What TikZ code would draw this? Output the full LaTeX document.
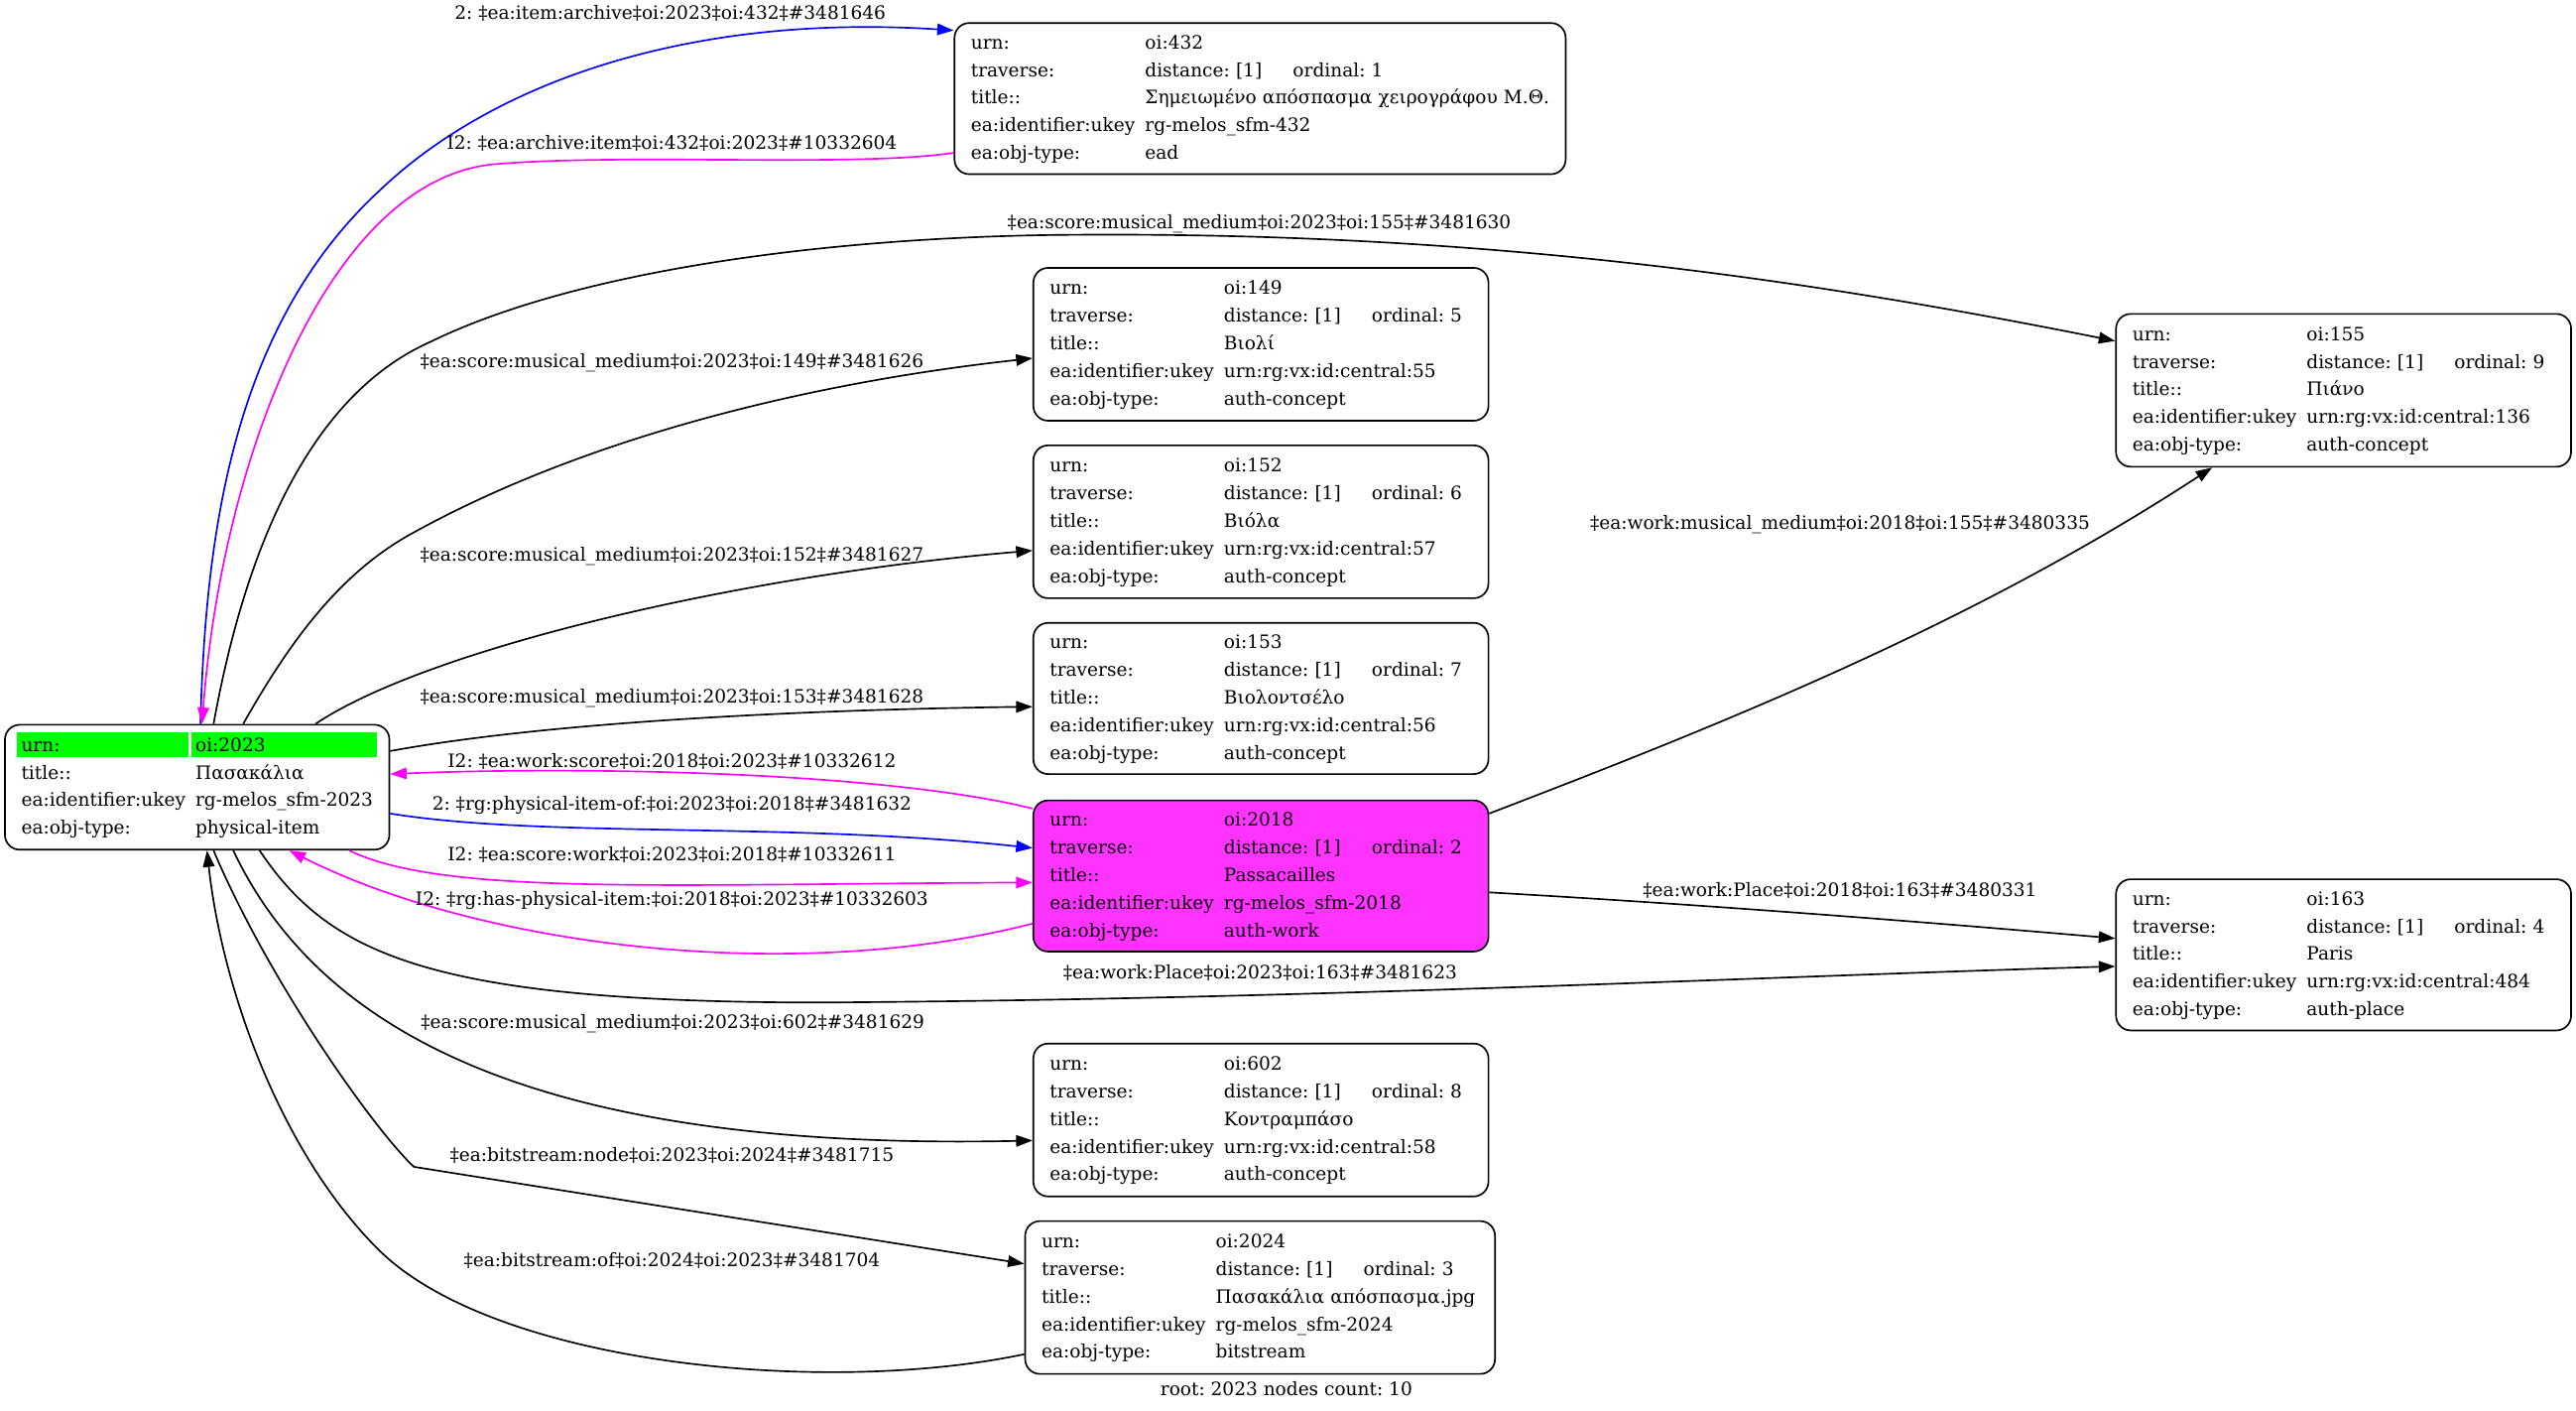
\documentclass[tikz,border=0pt]{standalone}
\usepackage{fontspec}
\setmainfont{DejaVu Serif}
\usetikzlibrary{arrows.meta}
\usetikzlibrary{backgrounds}

\definecolor{urngreen}{RGB}{0,255,0}
\definecolor{workpink}{RGB}{255,51,255}
\definecolor{linkmagenta}{RGB}{255,0,255}
\definecolor{linkblue}{RGB}{0,0,255}
\frenchspacing

\newcommand{\recrows}[5]{%
  \begin{tabular}{@{}p{106pt}@{}l@{}}
  urn: & #1\\
  traverse: & \makebox[90pt][l]{distance: [1]}ordinal: #2\\
  title:: & #3\\
  ea:identifier:ukey & #4\\
  ea:obj-type: & #5
  \end{tabular}}

\begin{document}
\begin{tikzpicture}[x=1pt,y=-1pt,
    rec/.style={draw, rounded corners=9pt, line width=1pt, inner xsep=10pt, inner ysep=0pt,
        align=left, font=\fontsize{11.2}{16.8}\selectfont},
    lbl/.style={inner sep=0pt, font=\fontsize{11.2}{16.8}\selectfont},
    link/.style={line width=1pt, -{Triangle[length=10pt,width=7pt]}}]%
    \useasboundingbox (0,0) rectangle (1568,858);
    % records
    \node[rec, minimum width=234pt, minimum height=76pt, text width=214pt] (n2023) at (120,479)
        {\begin{tabular}{@{}p{106pt}@{}l@{}}
         urn: & oi:2023\\
         title:: & Πασακάλια\\
         ea:identifier:ukey & rg-melos\_sfm-2023\\
         ea:obj-type: & physical-item
         \end{tabular}};
    \node[rec, minimum width=372pt, minimum height=92pt, text width=352pt] (n432) at (767,60)
        {\recrows{oi:432}{1}{Σημειωμένο απόσπασμα χειρογράφου Μ.Θ.}{rg-melos\_sfm-432}{ead}};
    \node[rec, minimum width=277pt, minimum height=93pt, text width=257pt] (n149) at (767.5,209.5)
        {\recrows{oi:149}{5}{Βιολί}{urn:rg:vx:id:central:55}{auth-concept}};
    \node[rec, minimum width=277pt, minimum height=93pt, text width=257pt] (n152) at (767.5,317.5)
        {\recrows{oi:152}{6}{Βιόλα}{urn:rg:vx:id:central:57}{auth-concept}};
    \node[rec, minimum width=277pt, minimum height=92pt, text width=257pt] (n153) at (767.5,425)
        {\recrows{oi:153}{7}{Βιολοντσέλο}{urn:rg:vx:id:central:56}{auth-concept}};
    \node[rec, fill=workpink, minimum width=277pt, minimum height=92pt, text width=257pt] (n2018) at (767.5,533)
        {\recrows{oi:2018}{2}{Passacailles}{rg-melos\_sfm-2018}{auth-work}};
    \node[rec, minimum width=277pt, minimum height=93pt, text width=257pt] (n602) at (767.5,681.5)
        {\recrows{oi:602}{8}{Κοντραμπάσο}{urn:rg:vx:id:central:58}{auth-concept}};
    \node[rec, minimum width=286pt, minimum height=93pt, text width=266pt] (n2024) at (767,789.5)
        {\recrows{oi:2024}{3}{Πασακάλια απόσπασμα.jpg}{rg-melos\_sfm-2024}{bitstream}};
    \node[rec, minimum width=277pt, minimum height=93pt, text width=257pt] (n155) at (1426.5,237.5)
        {\recrows{oi:155}{9}{Πιάνο}{urn:rg:vx:id:central:136}{auth-concept}};
    \node[rec, minimum width=277pt, minimum height=92pt, text width=257pt] (n163) at (1426.5,581)
        {\recrows{oi:163}{4}{Paris}{urn:rg:vx:id:central:484}{auth-place}};
    \begin{scope}[on background layer]
        \fill[urngreen] ([xshift=8pt,yshift=-5pt]n2023.north west) rectangle ([xshift=112pt,yshift=-20pt]n2023.north west);
        \fill[urngreen] ([xshift=114pt,yshift=-5pt]n2023.north west) rectangle ([xshift=227pt,yshift=-20pt]n2023.north west);
    \end{scope}
    % links
    \begin{scope}[link]
        \draw[linkblue] ([xshift=2pt]n2023.north) .. controls (125,330) and (140,200) .. (231,116)
            .. controls (300,50) and (420,8) .. ([yshift=-5pt]n432.north west);
        \draw[linkmagenta] ([yshift=-33pt]n432.west) .. controls (520,102) and (380,93) .. (300,100)
            .. controls (200,110) and (135,280) .. ([xshift=3pt]n2023.north);
        \draw ([xshift=10pt]n2023.north) .. controls (150,330) and (190,240) .. (262,208)
            .. controls (350,165) and (500,145) .. (640,143)
            .. controls (900,140) and (1100,170) .. ([yshift=30pt]n155.west);
        \draw ([xshift=28pt]n2023.north) .. controls (175,393) and (205,350) .. (250,325)
            .. controls (360,264) and (500,232) .. ([yshift=-8.5pt]n149.west);
        \draw ([xshift=72pt]n2023.north) .. controls (260,395) and (450,350) .. ([yshift=-17.5pt]n152.west);
        \draw ([yshift=22pt]n2023.east) .. controls (330,440) and (480,432) .. ([yshift=-5pt]n153.west);
        \draw[linkmagenta] ([yshift=41pt]n2018.west) .. controls (540,470) and (360,466) .. ([yshift=8pt]n2023.east);
        \draw[linkblue] ([yshift=-16pt]n2023.east) .. controls (330,510) and (480,500) .. ([yshift=17pt]n2018.west);
        \draw[linkmagenta] ([xshift=-25pt]n2023.south east) .. controls (270,545) and (400,538) .. ([yshift=-4pt]n2018.west);
        \draw[linkmagenta] ([yshift=-29pt]n2018.west) .. controls (480,600) and (290,575) .. ([xshift=56pt]n2023.south);
        \draw ([yshift=38pt]n2018.east) .. controls (1050,440) and (1200,380) .. ([xshift=-80pt]n155.south);
        \draw ([yshift=-10pt]n2018.east) .. controls (1030,550) and (1160,560) .. ([yshift=10pt]n163.west);
        \draw ([xshift=38pt]n2023.south) .. controls (200,580) and (260,610) .. (500,610)
            .. controls (800,608) and (1050,595) .. ([yshift=-7pt]n163.west);
        \draw ([xshift=22pt]n2023.south) .. controls (200,640) and (350,700) .. ([yshift=-12.5pt]n602.west);
        \draw ([xshift=10pt]n2023.south) .. controls (165,600) and (230,690) .. (252,710)
            -- ([yshift=20.5pt]n2024.west);
        \draw ([yshift=-34.5pt]n2024.west) .. controls (500,850) and (300,830) .. (230,760)
            .. controls (170,700) and (135,600) .. ([xshift=6pt]n2023.south);
    \end{scope}
    % link labels
    \node[lbl] (lItemArchive) at (408,8) {2: ‡ea:item:archive‡oi:2023‡oi:432‡\#3481646};
    \node[lbl] (lArchiveItem) at (409,87) {I2: ‡ea:archive:item‡oi:432‡oi:2023‡\#10332604};
    \node[lbl] (lMedium155) at (766.5,136) {‡ea:score:musical\_medium‡oi:2023‡oi:155‡\#3481630};
    \node[lbl] (lMedium149) at (409,221) {‡ea:score:musical\_medium‡oi:2023‡oi:149‡\#3481626};
    \node[lbl] (lMedium152) at (409,338.5) {‡ea:score:musical\_medium‡oi:2023‡oi:152‡\#3481627};
    \node[lbl] (lMedium153) at (409,425) {‡ea:score:musical\_medium‡oi:2023‡oi:153‡\#3481628};
    \node[lbl] (lWorkScore) at (409,463) {I2: ‡ea:work:score‡oi:2018‡oi:2023‡\#10332612};
    \node[lbl] (lItemOf) at (409,490) {2: ‡rg:physical-item-of:‡oi:2023‡oi:2018‡\#3481632};
    \node[lbl] (lScoreWork) at (409,520) {I2: ‡ea:score:work‡oi:2023‡oi:2018‡\#10332611};
    \node[lbl] (lHasItem) at (409,548) {I2: ‡rg:has-physical-item:‡oi:2018‡oi:2023‡\#10332603};
    \node[lbl] (lWorkMedium) at (1120,319) {‡ea:work:musical\_medium‡oi:2018‡oi:155‡\#3480335};
    \node[lbl] (lWorkPlace) at (1120,542) {‡ea:work:Place‡oi:2018‡oi:163‡\#3480331};
    \node[lbl] (lScorePlace) at (767,592) {‡ea:work:Place‡oi:2023‡oi:163‡\#3481623};
    \node[lbl] (lMedium602) at (409.5,623) {‡ea:score:musical\_medium‡oi:2023‡oi:602‡\#3481629};
    \node[lbl] (lBitNode) at (409,703) {‡ea:bitstream:node‡oi:2023‡oi:2024‡\#3481715};
    \node[lbl] (lBitOf) at (409,767) {‡ea:bitstream:of‡oi:2024‡oi:2023‡\#3481704};
    \node[lbl] (footer) at (783,845) {root: 2023 nodes count: 10};
\end{tikzpicture}
\end{document}
